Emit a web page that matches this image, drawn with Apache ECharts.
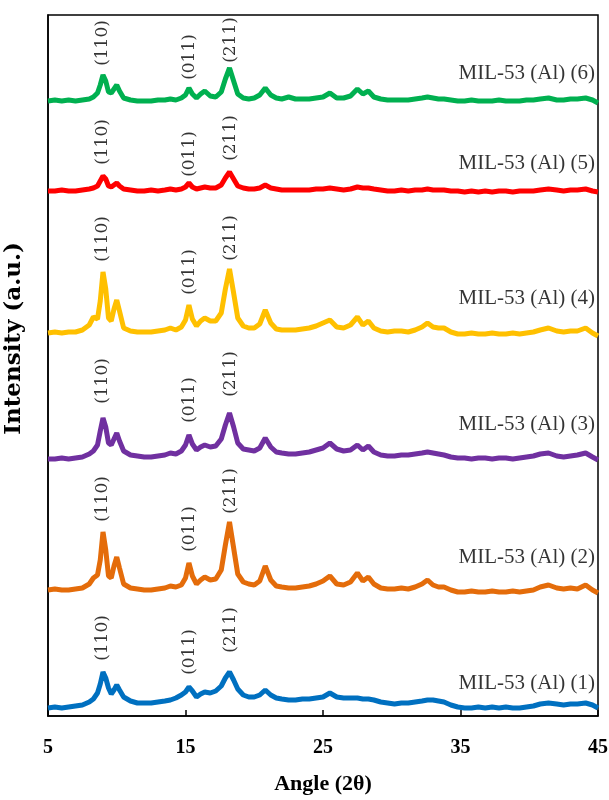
<!DOCTYPE html>
<html>
<head>
<meta charset="utf-8">
<script src="https://cdn.jsdelivr.net/npm/echarts@6/dist/echarts.min.js"></script>
<style>html,body{margin:0;padding:0;background:#fff}#c{width:609px;height:800px}</style>
</head>
<body>
<div id="c"></div>
<script>
// 2θ angles (shared by all patterns)
const angles = [
  5,5.5,6,6.5,7,7.5,8,8.3,8.6,8.8,
  9.0,9.2,9.4,9.6,9.8,10.0,10.2,10.5,
  11,11.5,12,12.5,13,13.5,13.9,14.3,14.7,15.0,
  15.25,15.5,15.8,16.1,16.4,16.8,17.2,17.6,17.9,18.2,18.5,18.8,
  19.2,19.6,20.0,20.4,20.8,21.2,21.6,22,
  22.5,23,23.5,24,24.5,25,25.5,26,26.5,27,
  27.5,27.9,28.3,28.7,29.2,29.7,30.2,30.7,31.2,31.7,
  32.2,32.6,33.0,33.4,33.8,34.3,34.8,35.3,35.8,36.3,
  36.8,37.3,37.8,38.3,38.8,39.3,39.8,40.3,40.8,
  41.4,42.0,42.5,43.0,43.5,44.1,44.6,45.0
];
// intensities (a.u.) above each pattern's own baseline
const int1 = [
  0,1,0,1,2,3,6,9,15,24,
  36,30,20,14,18,23,18,11,
  7,5,5,5,6,7,8,10,13,16,
  21,17,11,14,16,15,17,22,30,36,28,19,
  13,11,11,13,18,13,10,9,
  8,8,9,9,10,11,15,11,10,10,
  10,9,9,8,6,5,4,5,5,6,
  7,8,8,7,6,3,1,0,0,1,
  0,1,0,1,0,0,1,2,4,
  5,4,3,4,4,5,3,0
];
const int2 = [
  0,1,0,0,1,2,6,12,15,30,
  58,40,14,12,24,33,22,6,
  2,1,0,0,1,2,4,3,5,12,
  27,14,6,10,13,10,11,20,45,68,42,16,
  8,6,5,9,24,10,4,3,
  2,2,3,4,6,9,14,6,5,8,
  17,9,13,6,2,1,1,2,1,3,
  6,10,5,3,3,0,-2,-2,-1,-2,
  -2,-1,-2,-2,-1,-2,-1,0,3,
  5,2,1,2,1,5,0,-3
];
const int3 = [
  0,0,1,0,1,2,5,8,14,28,
  41,32,16,14,20,26,18,8,
  4,3,2,2,3,4,6,5,8,14,
  24,15,9,12,14,12,13,20,34,46,32,16,
  10,9,8,11,21,12,7,6,
  5,5,6,7,9,11,16,10,8,9,
  14,9,13,7,4,3,3,4,4,5,
  6,7,6,5,4,2,1,1,0,1,
  1,0,1,1,0,1,2,3,5,
  6,3,2,3,4,6,2,-1
];
const int4 = [
  0,1,0,1,1,3,8,16,14,32,
  61,44,15,12,24,33,22,5,
  2,1,1,1,2,3,5,3,6,13,
  28,14,7,12,15,12,12,20,44,64,40,15,
  7,5,5,9,23,10,4,3,
  3,3,4,5,7,10,13,6,5,8,
  16,8,12,5,2,1,2,2,1,3,
  6,10,6,5,5,1,-1,-1,0,-1,
  -1,0,-1,-1,0,-1,0,1,3,
  5,2,1,2,2,5,0,-3
];
const int5 = [
  0,0,1,0,0,1,2,3,5,10,
  15,12,5,4,6,8,5,2,
  1,0,0,1,0,1,2,1,2,4,
  8,4,2,3,4,3,3,6,13,19,12,5,
  3,2,2,3,6,3,2,1,
  1,1,1,1,2,2,3,2,1,2,
  4,3,3,2,1,0,0,1,0,1,
  1,2,1,1,1,0,0,-1,0,-1,
  0,-1,0,0,-1,0,0,0,1,
  2,1,0,1,1,2,0,-1
];
const int6 = [
  0,1,0,1,0,1,2,4,8,16,
  26,20,9,8,12,16,10,3,
  1,0,0,0,1,1,2,1,3,6,
  13,7,3,7,10,5,4,9,22,33,20,7,
  3,2,3,6,13,6,3,2,
  4,2,2,2,3,4,8,3,3,5,
  12,7,10,4,2,1,1,1,1,2,
  3,4,3,2,2,1,0,0,1,0,
  0,0,1,0,0,0,1,1,2,
  3,1,1,2,2,3,1,-2
];
const sampleNames = ['MIL-53 (Al) (1)','MIL-53 (Al) (2)','MIL-53 (Al) (3)','MIL-53 (Al) (4)','MIL-53 (Al) (5)','MIL-53 (Al) (6)'];
const offsets = [8, 126, 257, 383, 525, 615];
const nameLabelY = [33, 159, 292, 418, 553, 643];
const colors = ['#0070C0','#E46C0A','#7030A0','#FFC000','#FF0000','#00B050'];
const hklNames = ['(110)','(011)','(211)'];
const hklAngles = [9.0, 15.3, 18.3];
const hklY1 = [78, 64, 86];
const hklY2 = [217, 187, 225];
const hklY3 = [335, 316, 342];
const hklY4 = [477, 444, 478];
const hklY5 = [574, 562, 578];
const hklY6 = [673, 659, 676];
const xTicks = [5, 15, 25, 35, 45];

const intensities = [int1,int2,int3,int4,int5,int6];
const hklY = [hklY1,hklY2,hklY3,hklY4,hklY5,hklY6];

const series = [];
intensities.forEach((arr, i) => {
  series.push({
    type: 'line', name: sampleNames[i], showSymbol: false, symbol: 'none',
    lineStyle: { color: colors[i], width: 5 }, z: 2, silent: true,
    data: angles.map((a, k) => [a, arr[k] + offsets[i]])
  });
});
const hklData = [];
hklY.forEach(ys => ys.forEach((y, k) => hklData.push({ name: hklNames[k], value: [hklAngles[k], y] })));
series.push({
  type: 'scatter', symbolSize: 0, silent: true, z: 5, data: hklData,
  label: { show: true, position: 'inside', rotate: 90, formatter: p => p.name,
    fontFamily: 'DejaVu Serif', fontSize: 17, color: '#000' }
});
series.push({
  type: 'scatter', symbolSize: 0, silent: true, z: 5,
  data: sampleNames.map((n, i) => ({ name: n, value: [44.78, nameLabelY[i]] })),
  label: { show: true, position: 'left', distance: 0, formatter: p => p.name,
    fontFamily: 'Liberation Serif', fontSize: 21, color: '#000' }
});

const chart = echarts.init(document.getElementById('c'), null, { renderer: 'canvas' });
chart.setOption({
  animation: false,
  backgroundColor: '#fff',
  grid: { left: 48, right: 11, top: 15, bottom: 84, outerBoundsMode: 'none', containLabel: false,
    show: true, borderColor: '#000', borderWidth: 1.5, backgroundColor: 'transparent' },
  xAxis: {
    type: 'value', min: xTicks[0], max: xTicks[xTicks.length - 1], interval: 10,
    axisLine: { show: true, lineStyle: { color: '#000', width: 1.5 } },
    axisTick: { show: true, inside: true, length: 6, lineStyle: { color: '#000', width: 1.5 } },
    splitLine: { show: false },
    axisLabel: { margin: 22, fontFamily: 'Liberation Serif', fontWeight: 'bold', fontSize: 20, color: '#000' },
    name: 'Angle (2θ)', nameLocation: 'middle', nameGap: 57,
    nameTextStyle: { fontFamily: 'Liberation Serif', fontWeight: 'bold', fontSize: 22, color: '#000' }
  },
  yAxis: {
    type: 'value', min: 0, max: 701,
    axisLine: { show: true, lineStyle: { color: '#000', width: 1.5 } },
    axisTick: { show: false }, axisLabel: { show: false }, splitLine: { show: false },
    name: 'Intensity (a.u.)', nameLocation: 'middle', nameGap: 22, nameRotate: 90,
    nameTextStyle: { fontFamily: 'DejaVu Serif', fontWeight: 'bold', fontSize: 23, color: '#000', padding: [0, 0, 0, 54] }
  },
  series: series
});
</script>
</body>
</html>
